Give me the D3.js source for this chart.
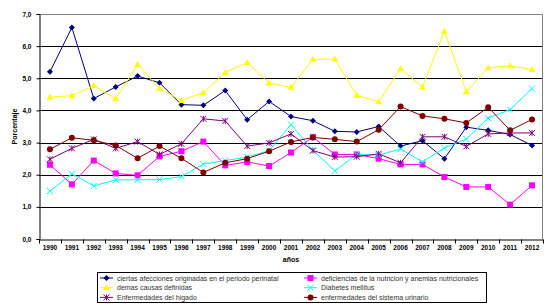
<!DOCTYPE html>
<html>
<head>
<meta charset="utf-8">
<script src="https://cdn.jsdelivr.net/npm/d3@7"></script>
<style>
  body { margin: 0; background: #fff; }
  svg { display: block; font-family: "Liberation Sans", Arial, sans-serif; }
</style>
</head>
<body>
<script>
const years = ["1990","1991","1992","1993","1994","1995","1996","1997","1998","1999","2000","2001",
               "2002","2003","2004","2005","2006","2007","2008","2009","2010","2011","2012"]
const yTicks = [0,1,2,3,4,5,6,7]

const ciertas     = [5.20,6.58,4.37,4.73,5.07,4.86,4.18,4.16,4.62,3.71,4.28,3.81,3.68,3.35,3.33,3.50,2.89,3.06,2.50,3.48,3.38,3.25,2.91]
const deficiencias= [2.31,1.70,2.44,2.04,1.98,2.57,2.73,3.03,2.29,2.40,2.27,2.69,3.17,2.63,2.63,2.50,2.32,2.32,1.93,1.62,1.62,1.07,1.67]
const demas       = [4.41,4.46,4.77,4.36,5.43,4.68,4.31,4.55,5.18,5.49,4.85,4.72,5.59,5.60,4.47,4.27,5.30,4.73,6.46,4.58,5.33,5.39,5.27]
const diabetes    = [1.49,2.03,1.65,1.84,1.84,1.85,1.94,2.33,2.44,2.55,2.75,3.56,2.76,2.12,2.63,2.61,2.80,2.40,2.83,3.11,3.76,4.03,4.68]
const higado      = [2.48,2.82,3.10,2.82,3.03,2.63,2.96,3.74,3.67,2.89,2.99,3.27,2.75,2.55,2.56,2.65,2.37,3.18,3.18,2.88,3.27,3.30,3.30]
const urinario    = [2.79,3.15,3.07,2.91,2.51,2.89,2.51,2.07,2.37,2.50,2.73,3.02,3.16,3.10,3.03,3.40,4.12,3.83,3.74,3.61,4.10,3.38,3.72]

// legend order: row by row, two columns
const series = [
  {name:"ciertas afecciones originadas en el periodo perinatal", values:ciertas, color:"#000080", mark:"diamond"},
  {name:"deficiencias de la nutricion y anemias nutricionales", values:deficiencias, color:"#ff00ff", mark:"square"},
  {name:"demas causas definidas", values:demas, color:"#ffff00", mark:"triangle"},
  {name:"Diabetes mellitus", values:diabetes, color:"#00ffff", mark:"x"},
  {name:"Enfermedades del higado", values:higado, color:"#800080", mark:"star"},
  {name:"enfermedades del sistema urinario", values:urinario, color:"#800000", mark:"circle"},
]

const W = 553, H = 308
const m = {left:39, right:10, top:14, bottom:69}

const svg = d3.select("body").append("svg")
  .attr("width", W).attr("height", H)

const x = d3.scaleBand().domain(years).range([m.left, W - m.right])
const y = d3.scaleLinear().domain([0,7]).range([H - m.bottom, m.top])

// grid
svg.append("g").selectAll("line")
  .data(yTicks.filter(d => d > 0 && d < 7))
  .enter().append("line")
  .attr("x1", m.left).attr("x2", W - m.right)
  .attr("y1", d => Math.round(y(d)) + 0.5).attr("y2", d => Math.round(y(d)) + 0.5)
  .attr("stroke", "#000").attr("stroke-width", 1)

// plot border top/right
svg.append("path")
  .attr("d", `M${m.left},${Math.round(y(7))+0.5}H${W-m.right-0.5}V${Math.round(y(0))}`)
  .attr("fill", "none").attr("stroke", "#808080")

// axes
const yAxis = d3.axisLeft(y).tickValues(yTicks).tickSize(3).tickFormat(d => d3.format(".1f")(d).replace(".", ","))
svg.append("g")
  .attr("transform", `translate(${m.left + 0.5},0)`)
  .call(yAxis)
  .call(g => g.selectAll("text").attr("font-size", 6.5).attr("font-weight", "bold").attr("dx", -2))

const xAxis = d3.axisBottom(x).tickSize(0)
const gx = svg.append("g")
  .attr("transform", `translate(0,${Math.round(y(0)) + 0.5})`)
  .call(xAxis)
gx.selectAll("text").attr("font-size", 6.5).attr("font-weight", "bold").attr("dy", "1.2em")
// tick marks on category boundaries
gx.selectAll("line.bound")
  .data(years.concat(["end"]))
  .enter().append("line")
  .attr("class", "bound")
  .attr("x1", (d,i) => Math.round(m.left + i * x.step()) + 0.5)
  .attr("x2", (d,i) => Math.round(m.left + i * x.step()) + 0.5)
  .attr("y1", 0).attr("y2", 4)
  .attr("stroke", "#000")
svg.selectAll(".domain").attr("stroke", "#000")

// axis titles
svg.append("text")
  .attr("x", (m.left + W - m.right) / 2).attr("y", 262)
  .attr("text-anchor", "middle").attr("font-size", 7).attr("font-weight", "bold")
  .text("años")

svg.append("text")
  .attr("transform", `translate(17,${(y(0) + y(7)) / 2}) rotate(-90)`)
  .attr("text-anchor", "middle").attr("font-size", 7).attr("font-weight", "bold")
  .text("Porcentaje")

// markers
function drawMark(g, type, color, cx, cy) {
  if (type === "diamond") {
    g.append("path").attr("d", `M${cx},${cy-3}L${cx+3},${cy}L${cx},${cy+3}L${cx-3},${cy}Z`).attr("fill", color)
  } else if (type === "square") {
    g.append("rect").attr("x", cx-3).attr("y", cy-3).attr("width", 6).attr("height", 6).attr("fill", color)
  } else if (type === "triangle") {
    g.append("path").attr("d", `M${cx},${cy-3.5}L${cx+3.5},${cy+2.5}L${cx-3.5},${cy+2.5}Z`).attr("fill", color)
  } else if (type === "x") {
    g.append("path").attr("d", `M${cx-3},${cy-3}L${cx+3},${cy+3}M${cx+3},${cy-3}L${cx-3},${cy+3}`)
      .attr("stroke", color).attr("stroke-width", 1).attr("fill", "none")
  } else if (type === "star") {
    g.append("path").attr("d", `M${cx-3},${cy-3}L${cx+3},${cy+3}M${cx+3},${cy-3}L${cx-3},${cy+3}M${cx},${cy-3}V${cy+3}`)
      .attr("stroke", color).attr("stroke-width", 1).attr("fill", "none")
  } else if (type === "circle") {
    g.append("circle").attr("cx", cx).attr("cy", cy).attr("r", 3).attr("fill", color)
  }
}

const line = d3.line()
  .x((d,i) => x(years[i]) + x.bandwidth() / 2)
  .y(d => y(d))

series.forEach(s => {
  const g = svg.append("g")
  g.append("path")
    .attr("d", line(s.values))
    .attr("fill", "none").attr("stroke", s.color).attr("stroke-width", 1)
  s.values.forEach((v,i) => drawMark(g, s.mark, s.color, x(years[i]) + x.bandwidth() / 2, y(v)))
})

// legend
const lg = svg.append("g")
lg.append("rect")
  .attr("x", 97.5).attr("y", 272.5).attr("width", 389).attr("height", 30)
  .attr("fill", "#fff").attr("stroke", "#000")
series.forEach((s,i) => {
  const col = i % 2, row = Math.floor(i / 2)
  const lx = col === 0 ? 100 : 304
  const ly = 278 + row * 9.7
  lg.append("line").attr("x1", lx).attr("x2", lx + 13).attr("y1", ly).attr("y2", ly)
    .attr("stroke", s.color)
  drawMark(lg, s.mark, s.color, lx + 6.5, ly)
  lg.append("text").attr("x", lx + 17).attr("y", ly + 2.5)
    .attr("font-size", 7).attr("fill", "#333")
    .text(s.name)
})
</script>
</body>
</html>
